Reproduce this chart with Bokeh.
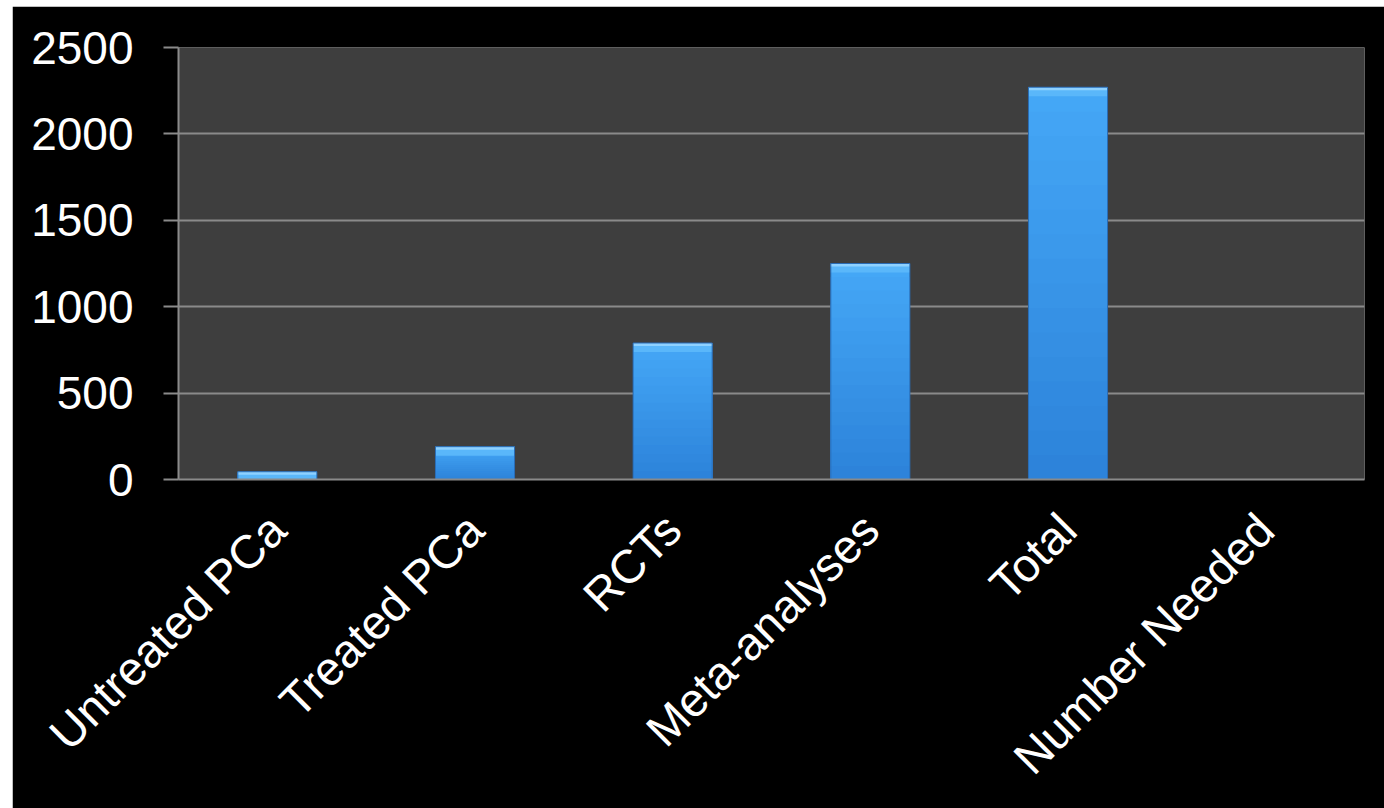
from math import pi

from bokeh.embed import file_html
from bokeh.layouts import column, row
from bokeh.models import FactorRange, Range1d, Spacer, FixedTicker
from bokeh.plotting import figure
from bokeh.resources import INLINE

# --- data -------------------------------------------------------------
categories = ["Untreated PCa", "Treated PCa", "RCTs", "Meta-analyses", "Total", "Number Needed"]
counts = [45, 190, 790, 1250, 2270, 0]
y_ticks = [0, 500, 1000, 1500, 2000, 2500]

# --- figure -----------------------------------------------------------
W, H = 1372, 802
p = figure(
    x_range=FactorRange(*categories, range_padding=0),
    y_range=Range1d(0, 2500),
    width=W, height=H,
    min_border_left=166, min_border_right=20, min_border_top=41, min_border_bottom=329,
    output_backend="svg", toolbar_location=None,
    background_fill_color="#3e3e3e", border_fill_color="black",
)
p.outline_line_color = None

# vertical gradient on the bars: overlapping bars from the baseline,
# tallest (lightest) first, so that no seams show between the bands
def mix(c0, c1, t):
    a = [int(c0[i:i + 2], 16) for i in (1, 3, 5)]
    b = [int(c1[i:i + 2], 16) for i in (1, 3, 5)]
    return "#%02x%02x%02x" % tuple(round(a[k] + (b[k] - a[k]) * t) for k in range(3))

BOTTOM, TOP = "#2c82d9", "#45a8f7"
n = 16
for i in reversed(range(n)):
    f1 = (i + 1) / n
    p.vbar(x=categories, width=0.4, bottom=0, top=[v * f1 for v in counts],
           fill_color=mix(BOTTOM, TOP, (i + 0.5) / n), line_color=None)

# bevelled cap along the top of each bar
units_per_px = 2500 / 432
p.vbar(x=categories, width=0.4, top=counts,
       bottom=[v - min(v, 9 * units_per_px) for v in counts],
       fill_color="#5ab7fa", line_color=None)
p.vbar(x=categories, width=0.4, top=counts,
       bottom=[v - min(v, 3 * units_per_px) for v in counts],
       fill_color="#8ed1ff", line_color=None)
p.vbar(x=[c for c, v in zip(categories, counts) if v > 0], width=0.4,
       top=[v for v in counts if v > 0], bottom=0,
       fill_color=None, line_color="#2a6cb5", line_width=1)

# --- axes & grid ------------------------------------------------------
GRID = "#8a8a8a"
p.xgrid.grid_line_color = None
p.ygrid.grid_line_color = GRID
p.ygrid.grid_line_width = 2

p.yaxis.ticker = FixedTicker(ticks=y_ticks)
p.yaxis.axis_line_color = GRID
p.yaxis.axis_line_width = 2
p.yaxis.major_tick_line_color = GRID
p.yaxis.major_tick_line_width = 2
p.yaxis.major_tick_out = 15
p.yaxis.major_tick_in = 0
p.yaxis.minor_tick_line_color = None
p.yaxis.major_label_standoff = 30
p.yaxis.major_label_text_font = "Liberation Sans"
p.yaxis.major_label_text_font_size = "46px"
p.yaxis.major_label_text_color = "white"

p.xaxis.axis_line_color = GRID
p.xaxis.axis_line_width = 2
p.xaxis.major_tick_line_color = None
p.xaxis.minor_tick_line_color = None
p.xaxis.major_label_orientation = pi / 4
p.xaxis.major_label_standoff = 36
p.xaxis.major_label_text_font = "Liberation Sans"
p.xaxis.major_label_text_font_size = "47px"
p.xaxis.major_label_text_color = "white"

layout = column(Spacer(height=6), row(Spacer(width=12), p))
open("out.html", "w").write(file_html(layout, INLINE))
